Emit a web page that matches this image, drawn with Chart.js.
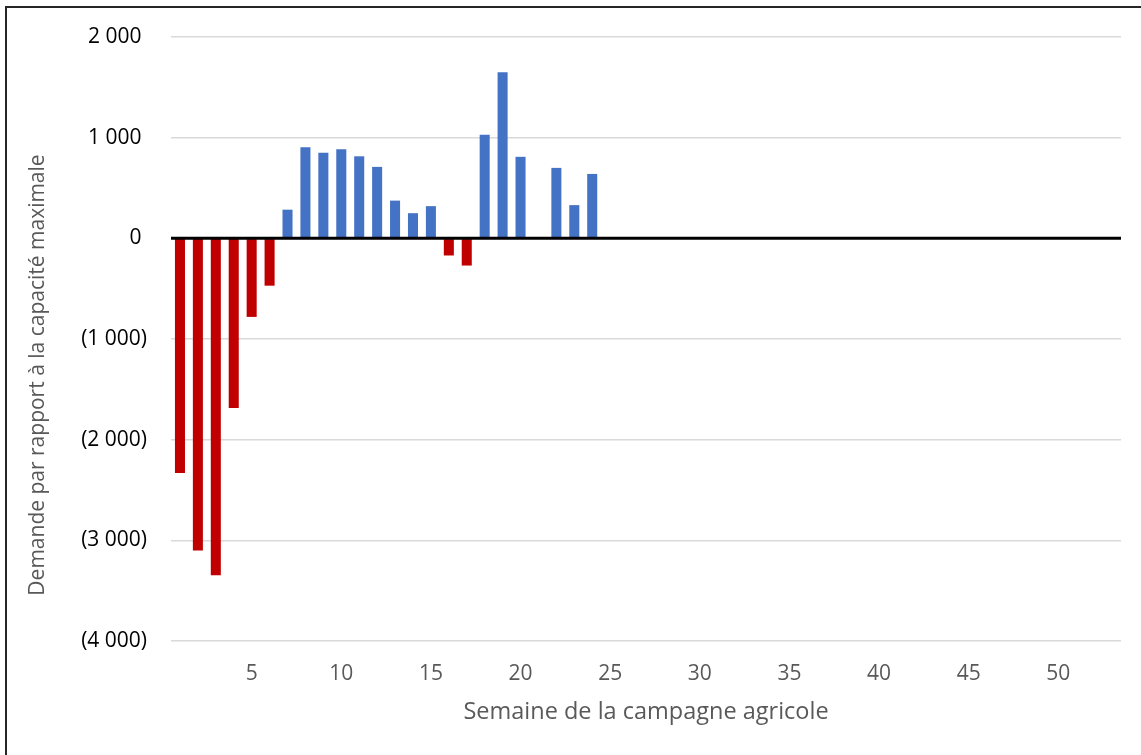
<!DOCTYPE html>
<html>
<head>
<meta charset="utf-8">
<script src="https://cdn.jsdelivr.net/npm/chart.js@4.4.1/dist/chart.umd.min.js"></script>
<style>
  html, body { margin: 0; padding: 0; background: #fff; overflow: hidden; }
  #wrap { position: relative; width: 1141px; height: 755px; }
  #frame { position: absolute; left: 5px; top: 6px; width: 1200px; height: 800px; border: 2px solid #262626; pointer-events: none; }
</style>
</head>
<body>
<div id="wrap">
  <canvas id="demand-chart" width="1141" height="755"></canvas>
  <div id="frame"></div>
</div>
<script>
const weeks = ['1','2','3','4','5','6','7','8','9','10','11','12','13','14','15','16','17','18','19','20',
  '21','22','23','24','25','26','27','28','29','30','31','32','33','34','35','36','37','38','39','40',
  '41','42','43','44','45','46','47','48','49','50','51','52','53']
const demand = [-2330, -3100, -3345, -1685, -780, -470, 285, 905, 850, 885,
  815, 710, 375, 250, 320, -170, -270, 1030, 1650, 810,
  null, 700, 330, 640, null, null, null, null, null, null,
  null, null, null, null, null, null, null, null, null, null,
  null, null, null, null, null, null, null, null, null, null,
  null, null, null]
const yTitle = 'Demande par rapport à la capacité maximale'
const xTitle = 'Semaine de la campagne agricole'

const FONT = "'Open Sans', sans-serif"

const fmt = (v) => String(Math.abs(v)).replace(/\B(?=(\d{3})+(?!\d))/g, ' ')

// zero line on top of bars + rotated y title
const extras = {
    id: 'extras',
    afterDatasetsDraw(chart) {
        const {ctx, chartArea, scales} = chart
        const y0 = scales.y.getPixelForValue(0)
        ctx.save()
        ctx.strokeStyle = '#000'
        ctx.lineWidth = 3
        ctx.beginPath()
        ctx.moveTo(chartArea.left, y0)
        ctx.lineTo(chartArea.right, y0)
        ctx.stroke()
        ctx.restore()
    },
    afterDraw(chart) {
        const ctx = chart.ctx
        ctx.save()
        ctx.translate(38, 375)
        ctx.rotate(-Math.PI / 2)
        ctx.font = '21px ' + FONT
        ctx.fillStyle = '#595959'
        ctx.textAlign = 'center'
        ctx.textBaseline = 'middle'
        ctx.fillText(yTitle, 0, 0)
        ctx.restore()
    }
}

const config = {
    type: 'bar',
    data: {
        labels: weeks,
        datasets: [{
            label: 'Demande',
            data: demand,
            backgroundColor: (c) => (c.raw < 0 ? '#C00000' : '#4472C4'),
            barPercentage: 0.56,
            categoryPercentage: 1,
        }]
    },
    options: {
        responsive: false,
        animation: false,
        layout: {
            padding: { top: 37, right: 20, bottom: 29, left: 0 }
        },
        plugins: {
            legend: { display: false },
            tooltip: { enabled: false },
        },
        scales: {
            x: {
                grid: { display: false, drawTicks: false },
                border: { display: false },
                ticks: {
                    autoSkip: false,
                    maxRotation: 0,
                    padding: 20,
                    color: '#595959',
                    font: { family: FONT, size: 21 },
                    callback: (v, i) => ((i + 1) % 5 === 0 ? weeks[i] : ''),
                },
                title: {
                    display: true,
                    text: xTitle,
                    color: '#595959',
                    font: { family: FONT, size: 23.5 },
                    padding: { top: -8.5, bottom: 0 },
                },
            },
            y: {
                min: -4000,
                max: 2000,
                afterFit: (scale) => { scale.width = 171 },
                grid: {
                    drawTicks: false,
                    lineWidth: 1.5,
                    color: (c) => (c.tick.value === 0 ? 'rgba(0,0,0,0)' : '#d9d9d9'),
                },
                border: { display: false },
                ticks: {
                    stepSize: 1000,
                    padding: 24,
                    color: '#000',
                    font: { family: FONT, size: 21 },
                    callback: (v) => (v < 0 ? '(' + fmt(v) + ')' : fmt(v) + ' '),
                },
            },
        },
    },
    plugins: [extras],
}

new Chart(document.getElementById('demand-chart'), config)
</script>
</body>
</html>
